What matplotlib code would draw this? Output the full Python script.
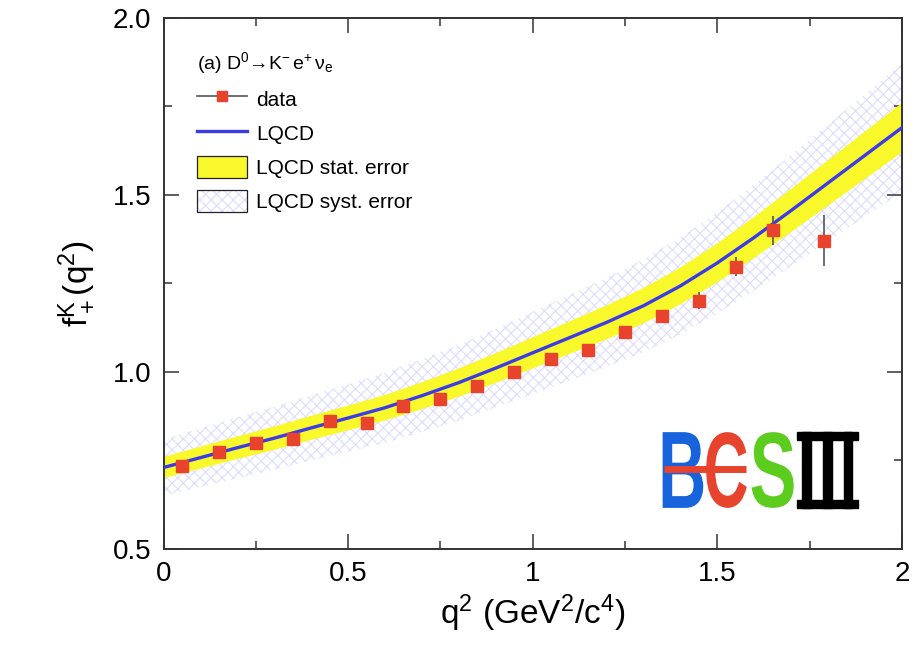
import numpy as np
import matplotlib
matplotlib.use("Agg")
import matplotlib.pyplot as plt
from matplotlib.lines import Line2D
from matplotlib.patches import Patch, PathPatch, Rectangle
from matplotlib.textpath import TextPath
from matplotlib.font_manager import FontProperties
from matplotlib.transforms import Affine2D

plt.rcParams['font.family'] = ['Liberation Sans', 'DejaVu Sans']
plt.rcParams['mathtext.fontset'] = 'custom'
plt.rcParams['mathtext.rm'] = 'Liberation Sans'
plt.rcParams['mathtext.it'] = 'Liberation Sans'
plt.rcParams['hatch.linewidth'] = 0.8

# measured points (q2 bin centres, form factor, error)
q2_data = [0.05, 0.15, 0.25, 0.35, 0.45, 0.55, 0.65, 0.75, 0.85, 0.95,
           1.05, 1.15, 1.25, 1.35, 1.45, 1.55, 1.65, 1.79]
f_data = [0.734, 0.774, 0.799, 0.810, 0.861, 0.856, 0.904, 0.924, 0.960, 1.000,
          1.036, 1.061, 1.112, 1.159, 1.201, 1.297, 1.401, 1.371]
f_err = [0.008, 0.008, 0.009, 0.009, 0.010, 0.010, 0.011, 0.011, 0.012, 0.013,
         0.013, 0.014, 0.015, 0.016, 0.024, 0.027, 0.041, 0.072]

# LQCD prediction
q2_lqcd = [0.0, 0.1, 0.2, 0.3, 0.4, 0.5, 0.6, 0.7, 0.8, 0.9, 1.0,
           1.1, 1.2, 1.3, 1.4, 1.5, 1.6, 1.7, 1.8, 1.9, 2.0]
f_lqcd = [0.730, 0.758, 0.786, 0.813, 0.842, 0.870, 0.899, 0.933, 0.970, 1.011, 1.054,
          1.097, 1.140, 1.187, 1.243, 1.308, 1.380, 1.456, 1.534, 1.612, 1.690]
stat_err = [0.030, 0.031, 0.032, 0.033, 0.034, 0.035, 0.036, 0.038, 0.040, 0.042, 0.044,
            0.046, 0.048, 0.050, 0.052, 0.055, 0.058, 0.061, 0.064, 0.067, 0.070]
syst_err = [0.080, 0.083, 0.086, 0.089, 0.092, 0.095, 0.099, 0.103, 0.107, 0.111, 0.116,
            0.121, 0.126, 0.131, 0.137, 0.143, 0.150, 0.157, 0.165, 0.173, 0.182]

x_ticks = [0, 0.5, 1, 1.5, 2]
x_ticklabels = ['0', '0.5', '1', '1.5', '2']
y_ticks = [0.5, 1.0, 1.5, 2.0]
y_ticklabels = ['0.5', '1.0', '1.5', '2.0']

q = np.array(q2_lqcd)
f = np.array(f_lqcd)
st = np.array(stat_err)
sy = np.array(syst_err)

RED = '#e8432c'
HATCH = '#dcdcff'

fig = plt.figure(figsize=(9.24, 6.67), dpi=100)
ax = fig.add_axes([0.177, 0.177, 0.799, 0.796])

ax.fill_between(q, f - sy, f + sy, facecolor='none', edgecolor=HATCH,
                hatch='xxx', linewidth=0, zorder=1)
ax.fill_between(q, f - st, f + st, facecolor='#f8f82a', edgecolor='none', zorder=2)
ax.plot(q, f, color='#3b3be8', lw=2.4, zorder=3)
ax.errorbar(q2_data, f_data, yerr=f_err, fmt='s', ms=8, color=RED,
            ecolor='#555555', elinewidth=1.2, capsize=0, zorder=4)

ax.set_xlim(0, 2)
ax.set_ylim(0.5, 2.0)
ax.set_xticks(x_ticks)
ax.set_xticklabels(x_ticklabels)
ax.set_yticks(y_ticks)
ax.set_yticklabels(y_ticklabels)
ax.set_xticks(np.arange(0, 2.01, 0.25), minor=True)
ax.set_yticks(np.arange(0.5, 2.01, 0.25), minor=True)
ax.tick_params(which='both', direction='in', top=True, right=True,
               color='#333333', width=1.1)
ax.tick_params(which='major', length=11, labelsize=20, pad=9)
ax.tick_params(which='minor', length=6)
for sp in ax.spines.values():
    sp.set_color('#333333')
    sp.set_linewidth(1.4)

ax.set_xlabel(r'q$^2$ (GeV$^2$/c$^4$)', fontsize=24, labelpad=4)
ax.set_ylabel(r'f$_+^{\mathrm{K}}$(q$^2$)', fontsize=24, labelpad=12)

# legend
h_data = Line2D([], [], color='#555555', lw=1.2, marker='s', ms=7,
                mfc=RED, mec=RED)
h_lqcd = Line2D([], [], color='#3b3be8', lw=2.4)
h_stat = Patch(facecolor='#f8f82a', edgecolor='#222222', lw=0.9)
h_syst = (Patch(facecolor='white', edgecolor=HATCH, hatch='xxx', lw=0),
          Patch(facecolor='none', edgecolor='#222222', lw=0.9))
ax.legend([h_data, h_lqcd, h_stat, h_syst],
          ['data', 'LQCD', 'LQCD stat. error', 'LQCD syst. error'],
          loc='upper left', bbox_to_anchor=(0.045, 0.94), frameon=False,
          fontsize=15, handlelength=2.4, handleheight=1.3,
          handletextpad=0.45, labelspacing=0.55, borderpad=0, borderaxespad=0,
          title='(a) D$^0$→K$^{\\!-}$e$^{\\!+}$ν$_\\mathrm{e}$', title_fontsize=14,
          alignment='left')

# BESIII logo
def glyph(s, box, color, prop):
    tp = TextPath((0, 0), s, size=1, prop=prop)
    e = tp.get_extents()
    x0, x1, y0, y1 = box
    tr = (Affine2D().translate(-e.x0, -e.y0)
          .scale((x1 - x0) / e.width, (y1 - y0) / e.height)
          .translate(x0, y0))
    ax.add_patch(PathPatch(tr.transform_path(tp), facecolor=color,
                           edgecolor='none', zorder=5))

bold = FontProperties(family='Liberation Sans', weight='bold')
glyph('B', (1.352, 1.462, 0.616, 0.830), '#1763dc', bold)
glyph('C', (1.470, 1.580, 0.616, 0.830), RED, bold)
glyph('S', (1.593, 1.707, 0.616, 0.830), '#5ccc1e', bold)
ax.plot([1.357, 1.578], [0.7246, 0.7246], color=RED, lw=5,
        solid_capstyle='butt', zorder=6)
# roman numeral three
ax.add_patch(Rectangle((1.716, 0.809), 0.164, 0.021, color='black', zorder=5))
ax.add_patch(Rectangle((1.716, 0.616), 0.164, 0.021, color='black', zorder=5))
for xb in (1.730, 1.786, 1.842):
    ax.add_patch(Rectangle((xb, 0.616), 0.024, 0.214, color='black', zorder=5))

fig.savefig('out.png', dpi=100)
